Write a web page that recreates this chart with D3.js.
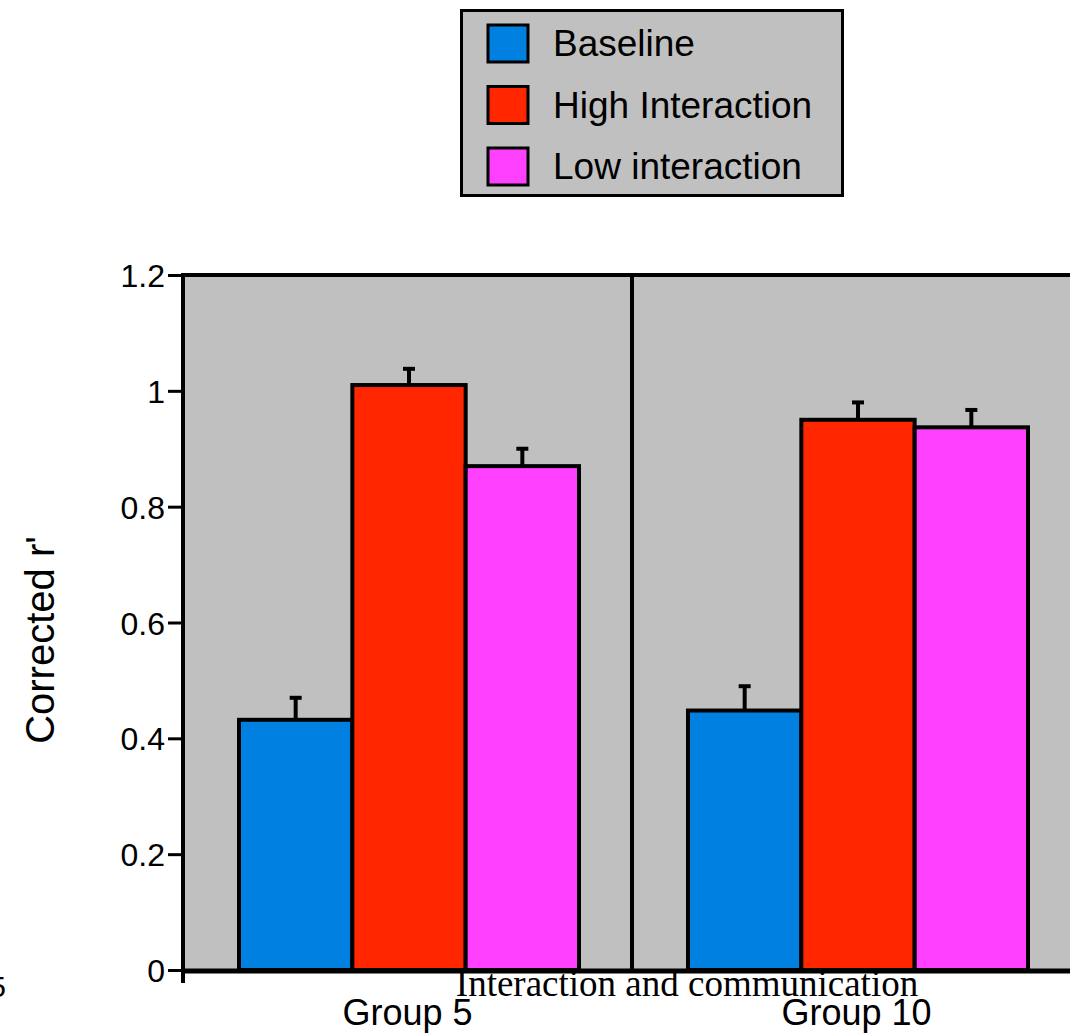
<!DOCTYPE html>
<html>
<head>
<meta charset="utf-8">
<script src="https://cdn.jsdelivr.net/npm/d3@7"></script>
<style>
  body { margin: 0; background: #ffffff; }
  svg { display: block; }
</style>
</head>
<body>
<div id="chart"></div>
<script>
// groups and series
const groups = ['Group 5', 'Group 10']
const series = ['Baseline', 'High Interaction', 'Low interaction']
const colors = ['#0080e0', '#ff2600', '#ff40ff']
// values per series (Group 5, Group 10)
const baseline = [0.432, 0.448]
const highInteraction = [1.01, 0.95]
const lowInteraction = [0.87, 0.937]
// error bar heights (upper side only)
const baselineErr = [0.038, 0.042]
const highErr = [0.028, 0.03]
const lowErr = [0.03, 0.03]
const yTicks = [0, 0.2, 0.4, 0.6, 0.8, 1, 1.2]

const values = [baseline, highInteraction, lowInteraction]
const errors = [baselineErr, highErr, lowErr]

const width = 1070
const height = 1035
const sans = '"Liberation Sans", Arial, Helvetica, sans-serif'
const serif = '"Liberation Serif", "Times New Roman", serif'

const svg = d3.select('#chart').append('svg')
  .attr('width', width)
  .attr('height', height)

// 刻度
const y = d3.scaleLinear().domain([0, 1.2]).range([970, 275])
const x0 = d3.scaleBand().domain(groups).range([183, 1081]).padding(0)
const x1 = d3.scaleBand().domain(series).range([56, 396]).padding(0)

// plot background
svg.append('rect')
  .attr('x', x0.range()[0])
  .attr('y', y(1.2))
  .attr('width', x0.range()[1] - x0.range()[0])
  .attr('height', y(0) - y(1.2))
  .attr('fill', '#c0c0c0')

// top frame line
svg.append('line')
  .attr('x1', 183).attr('x2', width)
  .attr('y1', y(1.2)).attr('y2', y(1.2))
  .attr('stroke', '#000').attr('stroke-width', 4)

// group divider
svg.append('line')
  .attr('x1', x0('Group 10')).attr('x2', x0('Group 10'))
  .attr('y1', y(1.2)).attr('y2', y(0))
  .attr('stroke', '#000').attr('stroke-width', 4)

// bars
const rows = []
groups.forEach((g, gi) => {
  series.forEach((s, si) => {
    rows.push({ group: g, series: s, value: values[si][gi], err: errors[si][gi], color: colors[si] })
  })
})

const bar = svg.selectAll('g.bar').data(rows).enter()
  .append('g')
  .classed('bar', true)
  .attr('transform', d => `translate(${x0(d.group) + x1(d.series)},0)`)

bar.append('line')
  .attr('x1', x1.bandwidth() / 2).attr('x2', x1.bandwidth() / 2)
  .attr('y1', d => y(d.value)).attr('y2', d => y(d.value + d.err))
  .attr('stroke', '#000').attr('stroke-width', 4)

bar.append('line')
  .attr('x1', x1.bandwidth() / 2 - 6).attr('x2', x1.bandwidth() / 2 + 6)
  .attr('y1', d => y(d.value + d.err)).attr('y2', d => y(d.value + d.err))
  .attr('stroke', '#000').attr('stroke-width', 4)

bar.append('rect')
  .attr('x', 0)
  .attr('y', d => y(d.value))
  .attr('width', x1.bandwidth())
  .attr('height', d => y(0) - y(d.value))
  .attr('fill', d => d.color)
  .attr('stroke', '#000')
  .attr('stroke-width', 4)

// y axis
const yAxis = d3.axisLeft(y).tickValues(yTicks).tickFormat(d3.format('~g')).tickSize(15).tickPadding(3)
const yMinor = d3.axisLeft(y).tickValues(d3.range(0, 1.2001, 0.05)).tickFormat('').tickSize(7)

const gy = svg.append('g').attr('transform', 'translate(183,0)')
gy.call(yMinor)
gy.call(yAxis)
gy.selectAll('.domain').remove()
gy.selectAll('line').attr('stroke', '#000').attr('stroke-width', 3)
gy.selectAll('text')
  .attr('fill', '#000')
  .style('font-family', sans)
  .style('font-size', '32px')
  .attr('dy', '0.36em')

svg.append('line')
  .attr('x1', 183).attr('x2', 183)
  .attr('y1', y(1.2) - 2).attr('y2', 983)
  .attr('stroke', '#000').attr('stroke-width', 4)

// x axis line
svg.append('line')
  .attr('x1', 181).attr('x2', width)
  .attr('y1', y(0) + 1).attr('y2', y(0) + 1)
  .attr('stroke', '#000').attr('stroke-width', 5)

// group labels
svg.selectAll('text.group').data(groups).enter()
  .append('text')
  .classed('group', true)
  .attr('x', d => x0(d) + x0.bandwidth() / 2)
  .attr('y', 1025)
  .attr('text-anchor', 'middle')
  .style('font-family', sans)
  .style('font-size', '36px')
  .text(d => d)

svg.append('text')
  .attr('x', 687)
  .attr('y', 996)
  .attr('text-anchor', 'middle')
  .style('font-family', serif)
  .style('font-size', '37px')
  .text('Interaction and communication')

// cut-off label at left edge
svg.append('text')
  .attr('x', 6)
  .attr('y', 997)
  .attr('text-anchor', 'end')
  .style('font-family', sans)
  .style('font-size', '30px')
  .text('5')

// y title
svg.append('text')
  .attr('transform', 'translate(54,640) rotate(-90)')
  .attr('text-anchor', 'middle')
  .style('font-family', sans)
  .style('font-size', '40px')
  .text('Corrected r\u02B9')

// 图例
const legend = svg.append('g').attr('transform', 'translate(460,9)')
legend.append('rect')
  .attr('x', 1.5).attr('y', 1.5)
  .attr('width', 381).attr('height', 185)
  .attr('fill', '#c0c0c0')
  .attr('stroke', '#000')
  .attr('stroke-width', 3)

const item = legend.selectAll('g.item').data(series).enter()
  .append('g')
  .classed('item', true)
  .attr('transform', (d, i) => `translate(0,${i * 61.5})`)

item.append('rect')
  .attr('x', 28).attr('y', 16)
  .attr('width', 40).attr('height', 37)
  .attr('fill', (d, i) => colors[i])
  .attr('stroke', '#000')
  .attr('stroke-width', 3)

item.append('text')
  .attr('x', 93)
  .attr('y', 47)
  .style('font-family', sans)
  .style('font-size', '37px')
  .text(d => d)
</script>
</body>
</html>
